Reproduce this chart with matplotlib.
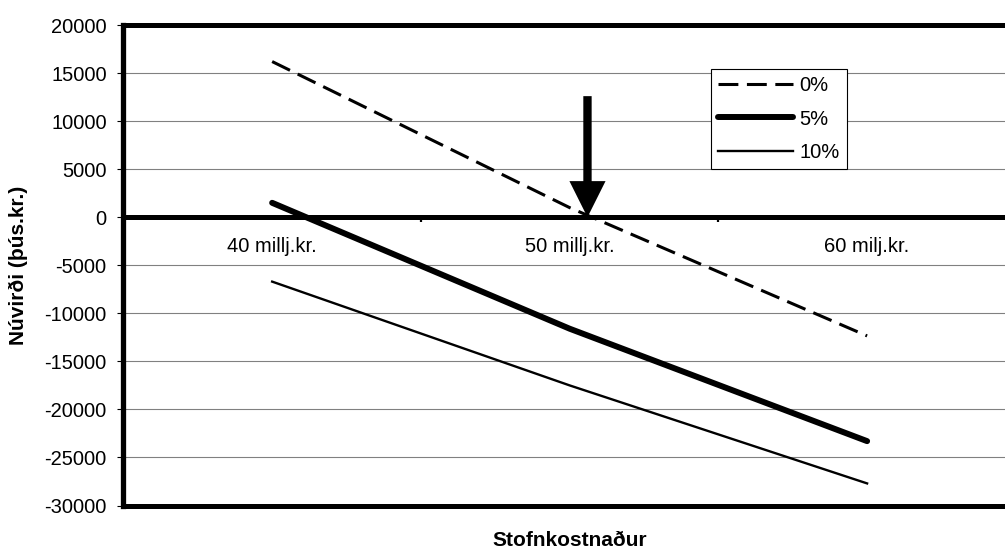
import matplotlib
matplotlib.use('Agg')
import matplotlib.pyplot as plt

plt.rcParams['font.family'] = ['Liberation Sans', 'DejaVu Sans']

# data
categories = ['40 millj.kr.', '50 millj.kr.', '60 milj.kr.']
series_names = ['0%', '5%', '10%']
npv_0 = [16200, 1000, -12350]
npv_5 = [1500, -11600, -23300]
npv_10 = [-6700, -17500, -27700]
y_ticks = [20000, 15000, 10000, 5000, 0, -5000, -10000, -15000, -20000, -25000, -30000]

fig = plt.figure(figsize=(10.05, 5.49), dpi=100)
ax = fig.add_axes([0.1228, 0.0792, 0.888, 0.8752])

x = list(range(len(categories)))
ax.plot(x, npv_0, color='k', lw=2.2, dashes=(6.5, 2.8), label=series_names[0], zorder=4)
ax.plot(x, npv_5, color='k', lw=4.3, solid_capstyle='round', label=series_names[1], zorder=4)
ax.plot(x, npv_10, color='k', lw=1.7, label=series_names[2], zorder=4)

ax.set_xlim(-0.5, 2.5)
ax.set_ylim(-30000, 20000)
ax.set_yticks(y_ticks)
ax.set_yticklabels([str(v) for v in y_ticks])
ax.yaxis.grid(True, color='#808080', lw=0.8)
ax.set_axisbelow(True)

# category axis crosses at zero
ax.spines['bottom'].set_position(('data', 0))
ax.spines['bottom'].set_linewidth(3.6)
ax.spines['left'].set_linewidth(3.8)
ax.spines['top'].set_linewidth(3.6)
ax.spines['right'].set_linewidth(3.6)
ax.axhline(-30000, color='k', lw=3.6, clip_on=False, zorder=3)

ax.set_xticks(x)
ax.set_xticklabels(categories, fontsize=14.5)
ax.set_xticks([0.5, 1.5], minor=True)
ax.tick_params(axis='x', which='major', length=0, pad=14.5)
ax.tick_params(axis='x', which='minor', length=3.6, width=1.6, direction='out')
ax.tick_params(axis='y', length=4, width=0.8, pad=8, labelsize=14.5)

# break-even arrow
ax.annotate('', xy=(1.06, 0), xytext=(1.06, 12600),
            arrowprops=dict(arrowstyle='simple,head_length=2.6,head_width=2.6,tail_width=0.6',
                            mutation_scale=10, color='k', lw=0, shrinkA=0, shrinkB=0),
            zorder=6)

leg = ax.legend(loc='upper left', bbox_to_anchor=(711 / 1005, 1 - 69 / 549),
                bbox_transform=fig.transFigure, borderaxespad=0, fontsize=14.5,
                handlelength=3.7, handletextpad=0.35, labelspacing=0.72, borderpad=0.35,
                fancybox=False, framealpha=1, edgecolor='k')
leg.get_frame().set_linewidth(0.8)

ax.text(0.5, -0.072, 'Stofnkostnaður', transform=ax.transAxes, ha='center', va='center',
        fontsize=15, fontweight='bold')
fig.text(18 / 1005, 1 - 265 / 549, 'Núvirði (þús.kr.)', rotation=90, ha='center', va='center',
         fontsize=15, fontweight='bold')

fig.savefig('out.png', dpi=100)
